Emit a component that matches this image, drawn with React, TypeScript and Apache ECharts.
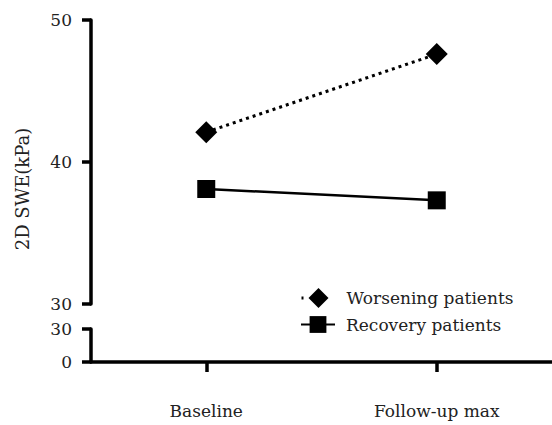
import React, { useEffect, useRef } from "react";
import * as echarts from "echarts";

const categories = ["Baseline", "Follow-up max"];
const worsening = [42.1, 47.6];
const recovery = [38.1, 37.3];
const seriesNames = ["Worsening patients", "Recovery patients"];
const yTitle = "2D SWE(kPa)";

const FONT = "DejaVu Serif";
const AXIS_W = 3.5;

export default function App() {
  const ref = useRef<HTMLDivElement>(null);
  useEffect(() => {
    if (!ref.current) return;
    const chart = echarts.init(ref.current, undefined, { renderer: "svg" });
    chart.setOption({
      animation: false,
      backgroundColor: "#fff",
      grid: [
        { left: 91, top: 20, width: 467, height: 284 },
        { left: 91, top: 329, width: 467, height: 33 },
      ],
      xAxis: [
        { type: "category", gridIndex: 0, data: categories, show: false },
        {
          type: "category",
          gridIndex: 1,
          data: categories,
          axisLine: { show: true, lineStyle: { color: "#000", width: AXIS_W } },
          axisTick: { show: true, length: 10, alignWithLabel: true, lineStyle: { color: "#000", width: AXIS_W } },
          axisLabel: { fontSize: 17, color: "#222", fontFamily: FONT, margin: 40 },
        },
      ],
      yAxis: [
        {
          type: "value",
          gridIndex: 0,
          min: 30,
          max: 50,
          interval: 10,
          axisLine: { show: true, lineStyle: { color: "#000", width: AXIS_W } },
          axisTick: { show: true, length: 9, lineStyle: { color: "#000", width: AXIS_W } },
          axisLabel: { fontSize: 17, color: "#222", fontFamily: FONT, margin: 19 },
          splitLine: { show: false },
        },
        {
          type: "value",
          gridIndex: 1,
          min: 0,
          max: 30,
          interval: 30,
          axisLine: { show: true, lineStyle: { color: "#000", width: AXIS_W } },
          axisTick: { show: true, length: 9, lineStyle: { color: "#000", width: AXIS_W } },
          axisLabel: { fontSize: 17, color: "#222", fontFamily: FONT, margin: 19 },
          splitLine: { show: false },
        },
      ],
      legend: [
        {
          data: [seriesNames[0]],
          left: 295,
          top: 283,
          itemWidth: 34,
          itemHeight: 25,
          lineStyle: { type: [2, 40], width: 3 },
          textStyle: { fontSize: 17, color: "#222", fontFamily: FONT, padding: [0, 0, 0, 6] },
        },
        {
          data: [seriesNames[1]],
          left: 295,
          top: 311,
          itemWidth: 34,
          itemHeight: 21,
          textStyle: { fontSize: 17, color: "#222", fontFamily: FONT, padding: [0, 0, 0, 6] },
        },
      ],
      graphic: [
        {
          type: "text",
          x: 22,
          y: 189,
          rotation: Math.PI / 2,
          style: {
            text: yTitle,
            fontSize: 18,
            fontFamily: FONT,
            fill: "#222",
            align: "center",
            verticalAlign: "middle",
          },
        },
      ],
      series: [
        {
          name: seriesNames[0],
          type: "line",
          xAxisIndex: 0,
          yAxisIndex: 0,
          data: worsening,
          symbol: "diamond",
          symbolSize: 22,
          itemStyle: { color: "#000" },
          lineStyle: { color: "#000", width: 3, type: [3, 4] },
        },
        {
          name: seriesNames[1],
          type: "line",
          xAxisIndex: 0,
          yAxisIndex: 0,
          data: recovery,
          symbol: "rect",
          symbolSize: 18,
          itemStyle: { color: "#000" },
          lineStyle: { color: "#000", width: 2.5 },
        },
      ],
    });
    return () => chart.dispose();
  }, []);
  return <div ref={ref} style={{ position: "fixed", left: 0, top: 0, width: 552, height: 425 }} />;
}
